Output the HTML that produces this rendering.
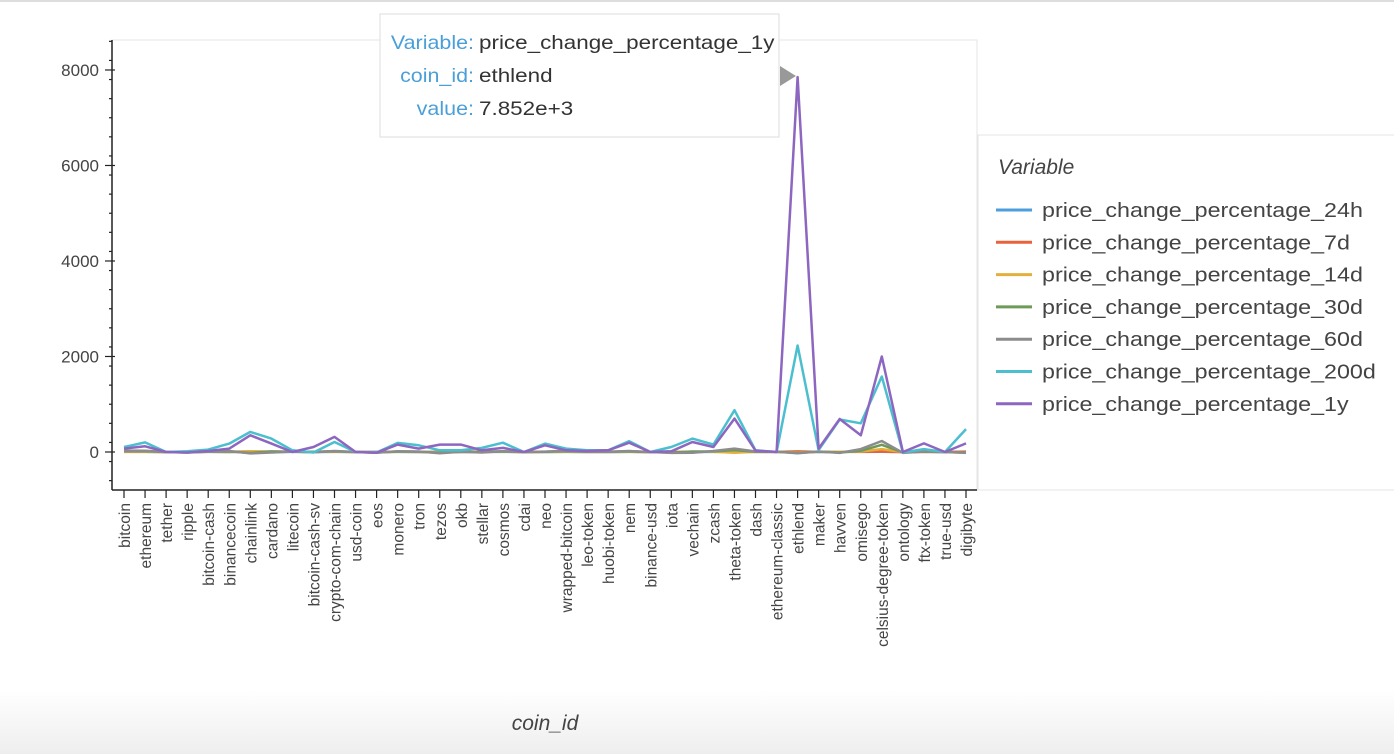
<!DOCTYPE html>
<html><head><meta charset="utf-8">
<style>
html,body{margin:0;padding:0;background:#fff;}
body{width:1394px;height:754px;overflow:hidden;position:relative;font-family:"Liberation Sans",sans-serif;}
#bg{position:absolute;left:0;top:0;width:1394px;height:754px;background:linear-gradient(#fff 0,#fff 690px,#eeeeee 754px);}
#topline{position:absolute;left:0;top:0;width:1394px;height:2px;background:#ddd;}
svg{position:absolute;left:0;top:0;}
</style></head>
<body>
<div id="bg"></div>
<div id="topline"></div>
<svg id="chart" width="1394" height="754"></svg>
<script>
const categories=["bitcoin","ethereum","tether","ripple","bitcoin-cash","binancecoin","chainlink","cardano","litecoin","bitcoin-cash-sv","crypto-com-chain","usd-coin","eos","monero","tron","tezos","okb","stellar","cosmos","cdai","neo","wrapped-bitcoin","leo-token","huobi-token","nem","binance-usd","iota","vechain","zcash","theta-token","dash","ethereum-classic","ethlend","maker","havven","omisego","celsius-degree-token","ontology","ftx-token","true-usd","digibyte"];
const seriesNames=["price_change_percentage_24h","price_change_percentage_7d","price_change_percentage_14d","price_change_percentage_30d","price_change_percentage_60d","price_change_percentage_200d","price_change_percentage_1y"];
const seriesColors=["#4c9fdc","#e8623c","#e3b03e","#6e9a57","#8c8c8c","#4cbfcf","#8d66c0"];
const v24h=[1,1,0,0,1,-1,4,0,1,0,2,0,1,1,0,1,0,2,1,0,0,1,0,0,2,0,1,-1,1,3,1,1,5,-1,2,1,3,1,1,0,4];
const v7d=[6,4,0,-2,3,2,10,5,3,2,8,0,-3,4,2,-2,1,3,6,0,2,5,1,1,5,0,2,3,4,8,2,1,12,2,6,5,10,-2,3,0,8];
const v14d=[10,8,0,-4,5,4,15,8,4,4,10,0,-6,6,3,-5,2,5,8,0,3,8,2,2,8,0,4,5,6,-15,3,2,-10,5,4,10,60,-5,4,0,-20];
const v30d=[20,18,0,-8,8,10,-20,12,6,6,15,0,-10,10,6,-15,4,8,12,0,5,15,4,4,12,0,-10,10,12,40,5,4,-20,8,-10,25,150,-10,8,0,-10];
const v60d=[30,25,0,-12,10,20,-30,-10,8,-5,20,0,-15,15,10,-25,6,-10,15,0,8,25,6,6,20,0,-20,-15,20,70,10,6,-25,10,-20,60,230,-20,10,0,-15];
const v200d=[105,200,0,15,50,175,420,280,35,-10,210,0,-10,190,140,35,35,85,195,0,175,70,35,35,225,0,105,280,155,875,35,0,2230,40,680,600,1580,-10,60,0,480];
const v1y=[70,120,0,-10,20,70,350,175,0,105,315,0,-15,155,70,155,155,35,85,0,140,35,20,35,195,0,15,210,105,700,30,0,7852,70,690,350,2000,0,180,0,180];
const seriesValues=[v24h,v7d,v14d,v30d,v60d,v200d,v1y];
const yTicks=[0,2000,4000,6000,8000];
const yTickLabels=["0","2000","4000","6000","8000"];

const NS="http://www.w3.org/2000/svg";
const svg=document.getElementById('chart');
const PL=112,PR=977,PT=40,PB=490;
const yMin=-796,yMax=8628;
function xScale(i){return 124+i*(842/(categories.length-1));}
function yScale(v){return PB-(v-yMin)/(yMax-yMin)*(PB-PT);}
function mk(tag,attrs,parent){const e=document.createElementNS(NS,tag);for(const k in attrs)e.setAttribute(k,attrs[k]);(parent||svg).appendChild(e);return e;}
function widen(t,f){const w=t.getComputedTextLength();if(w>0){t.setAttribute('textLength',(w*f).toFixed(1));t.setAttribute('lengthAdjust','spacingAndGlyphs');}}

const frame=mk('rect',{x:PL,y:PT,width:PR-PL,height:PB-PT,fill:'#fff',stroke:'#e5e5e5','stroke-width':1});



const yAxis=mk('g',{});


mk('line',{x1:PL,y1:PT,x2:PL,y2:PB,stroke:'#222','stroke-width':1.5},yAxis);
for(let v=-600;v<=8600;v+=400){
  const y=yScale(v);if(y<PT||y>PB)continue;
  mk('line',{x1:PL-3,y1:y,x2:PL,y2:y,stroke:'#222','stroke-width':1.2},yAxis);
}
yTicks.forEach((v,i)=>{
  const y=yScale(v);
  mk('line',{x1:PL-7,y1:y,x2:PL+3,y2:y,stroke:'#222','stroke-width':1.2},yAxis);
  const t=mk('text',{x:PL-13,y:y+6,'text-anchor':'end','font-size':'17','fill':'#444'},yAxis);
  t.textContent=yTickLabels[i];
  
  
});

const xAxis=mk('g',{});


mk('line',{x1:PL,y1:PB,x2:PR,y2:PB,stroke:'#222','stroke-width':1.5},xAxis);
categories.forEach((c,i)=>{
  const x=xScale(i);
  mk('line',{x1:x,y1:PB,x2:x,y2:PB+8,stroke:'#222','stroke-width':1.2},xAxis);
  const t=mk('text',{x:0,y:0,transform:`translate(${x+6},${PB+13}) rotate(-90)`,'text-anchor':'end','font-size':'15.5','fill':'#444'},xAxis);
  t.textContent=c;
  
  
});
const xt=mk('text',{x:545,y:730,'text-anchor':'middle','font-size':'21','font-style':'italic','fill':'#444'});
xt.textContent='coin_id';



seriesValues.forEach((vals,s)=>{
  const d=vals.map((v,i)=>(i?'L':'M')+xScale(i).toFixed(1)+','+yScale(v).toFixed(1)).join('');
  const p=mk('path',{d:d,fill:'none',stroke:seriesColors[s],'stroke-width':2.5,'stroke-linejoin':'round'});
  
  
});

const lg=mk('g',{});


mk('rect',{x:978,y:135,width:420,height:355,fill:'#fff',stroke:'#e5e5e5','stroke-width':1},lg);
const lt=mk('text',{x:998,y:174,'font-size':'21','font-style':'italic','fill':'#444'},lg);
lt.textContent='Variable';


seriesNames.forEach((n,i)=>{
  const y=210+i*32.3;
  const g=mk('g',{},lg);
  
  
  mk('line',{x1:996,y1:y,x2:1032,y2:y,stroke:seriesColors[i],'stroke-width':3},g);
  const t=mk('text',{x:1042,y:y+7,'font-size':'20.5','fill':'#444'},g);
  t.textContent=n;
  widen(t,1.135);
});

const tt=mk('g',{});


mk('rect',{x:380,y:14,width:399,height:123,fill:'#fff',stroke:'#ddd','stroke-width':1},tt);
mk('polygon',{points:'780,66 796,76 780,86',fill:'#999'},tt);
const rows=[["Variable:","price_change_percentage_1y"],["coin_id:","ethlend"],["value:","7.852e+3"]];
rows.forEach((r,i)=>{
  const y=49+i*33;
  const a=mk('text',{x:474,y:y,'text-anchor':'end','font-size':'19.5','fill':'#4a9fd8'},tt);a.textContent=r[0];
  widen(a,1.1);
  const b=mk('text',{x:479,y:y,'font-size':'19.5','fill':'#333'},tt);b.textContent=r[1];
  widen(b,1.15);
});
</script>
</body></html>
